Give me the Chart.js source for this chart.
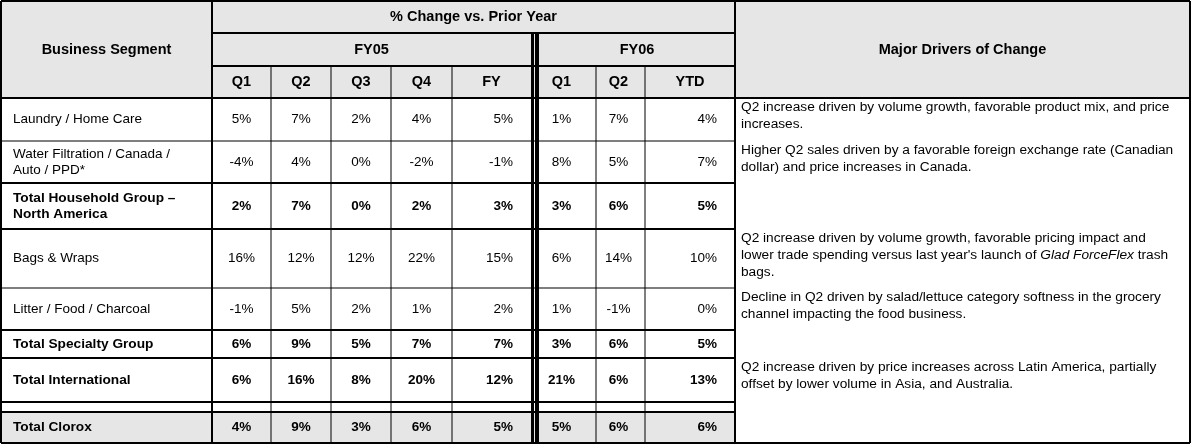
<!DOCTYPE html>
<html>
<head>
<meta charset="utf-8">
<script src="https://cdn.jsdelivr.net/npm/chart.js@4.4.0/dist/chart.umd.min.js"></script>
<style>
    html, body { margin: 0; padding: 0; background: #fff; }
    #wrap { width: 1195px; height: 448px; }
</style>
</head>
<body>
<div id="wrap"><canvas id="segmentTable" width="1195" height="448"></canvas></div>
<script>
const segments = [
    'Laundry / Home Care',
    'Water Filtration / Canada /\nAuto / PPD*',
    'Total Household Group \u2013\nNorth America',
    'Bags & Wraps',
    'Litter / Food / Charcoal',
    'Total Specialty Group',
    'Total International',
    '',
    'Total Clorox'
];
const totalRows = [2, 5, 6, 8];
const fy05Labels = ['Q1', 'Q2', 'Q3', 'Q4', 'FY'];
const fy06Labels = ['Q1', 'Q2', 'YTD'];
const fy05Values = [
    [5, 7, 2, 4, 5],
    [-4, 4, 0, -2, -1],
    [2, 7, 0, 2, 3],
    [16, 12, 12, 22, 15],
    [-1, 5, 2, 1, 2],
    [6, 9, 5, 7, 7],
    [6, 16, 8, 20, 12],
    null,
    [4, 9, 3, 6, 5]
];
const fy06Values = [
    [1, 7, 4],
    [8, 5, 7],
    [3, 6, 5],
    [6, 14, 10],
    [1, -1, 0],
    [3, 6, 5],
    [21, 6, 13],
    null,
    [5, 6, 6]
];
// _text_ = italic
const drivers = [
    ['Q2 increase driven by volume growth, favorable product mix, and price', 'increases.'],
    ['Higher Q2 sales driven by a favorable foreign exchange rate (Canadian', 'dollar) and price increases in Canada.'],
    null,
    ['Q2 increase driven by volume growth, favorable pricing impact and', "lower trade spending versus last year's launch of _Glad ForceFlex_ trash", 'bags.'],
    ['Decline in Q2 driven by salad/lettuce category softness in the grocery', 'channel impacting the food business.'],
    null,
    ['Q2 increase driven by price increases across Latin America, partially', 'offset by lower volume in Asia, and Australia.'],
    null,
    null
];

// layout, in page pixels
const LEFT = 1, RIGHT = 1190, TOP = 1, BOTTOM = 443;
const SEG_RIGHT = 212;
const FY05_EDGES = [212, 271, 331, 391, 452, 531];
const FY06_EDGES = [539, 596, 645, 735];
const FY06_NUDGE = [-6, -2, 0];
const DRIVERS_LEFT = 735;
const HEAD_EDGES = [TOP, 33, 66, 98];
const ROW_EDGES = [98, 141, 183, 229, 288, 330, 358, 402, 412, 443];
const GRAY = '#e6e6e6';
const FONT = '"Liberation Sans", Arial, sans-serif';

function cellPoints(values, edges, nudge) {
    const pts = [];
    values.forEach((row, r) => {
        if (!row) return;
        const yc = (ROW_EDGES[r] + ROW_EDGES[r + 1]) / 2;
        row.forEach((v, c) => {
            const right = c === row.length - 1;
            pts.push({
                x: right ? edges[c + 1] - 18 : (edges[c] + edges[c + 1]) / 2 + (nudge ? nudge[c] : 0),
                y: yc,
                text: v + '%',
                bold: totalRows.includes(r),
                align: right ? 'right' : 'center'
            });
        });
    });
    return pts;
}

const tablePlugin = {
    id: 'tablePlugin',
    beforeDatasetsDraw(chart) {
        const ctx = chart.ctx;
        const px = v => chart.scales.x.getPixelForValue(v);
        const py = v => chart.scales.y.getPixelForValue(v);
        const box = (x0, y0, x1, y1, c) => {
            ctx.fillStyle = c;
            ctx.fillRect(px(x0), py(y0), px(x1) - px(x0), py(y1) - py(y0));
        };
        const hLine = (x0, x1, yv, w) => box(x0, yv - w / 2, x1, yv + w / 2, '#000');
        const vLine = (xv, y0, y1, w) => box(xv - w / 2, y0, xv + w / 2, y1, '#000');

        ctx.save();
        box(LEFT, TOP, RIGHT, 98, GRAY);
        box(LEFT, ROW_EDGES[8], DRIVERS_LEFT, ROW_EDGES[9], GRAY);

        // header grid
        hLine(SEG_RIGHT, DRIVERS_LEFT, HEAD_EDGES[1], 2);
        hLine(SEG_RIGHT, DRIVERS_LEFT, HEAD_EDGES[2], 2);
        hLine(LEFT, RIGHT, HEAD_EDGES[3], 2);

        // body rows (thin between sub-segments, thick around totals)
        ROW_EDGES.slice(1, -1).forEach((yv, i) => {
            const thin = (i === 0 || i === 3);
            hLine(LEFT, DRIVERS_LEFT, yv, thin ? 1 : 2);
        });

        // column dividers
        FY05_EDGES.slice(1, -1).forEach(xv => vLine(xv, HEAD_EDGES[2], BOTTOM, 1));
        FY06_EDGES.slice(1, -1).forEach(xv => vLine(xv, HEAD_EDGES[2], BOTTOM, 1));
        vLine(SEG_RIGHT, TOP, BOTTOM, 2);
        vLine(DRIVERS_LEFT, TOP, BOTTOM, 2);
        // double divider between FY05 and FY06
        box(531, HEAD_EDGES[1], 534, BOTTOM, '#000');
        box(535, HEAD_EDGES[1], 539, BOTTOM, '#000');

        // outer border
        hLine(LEFT, RIGHT, TOP, 2);
        hLine(LEFT, RIGHT, BOTTOM, 2);
        vLine(LEFT, TOP, BOTTOM, 2);
        vLine(RIGHT, TOP, BOTTOM, 2);
        ctx.restore();
    },
    afterDatasetsDraw(chart) {
        const ctx = chart.ctx;
        const px = v => chart.scales.x.getPixelForValue(v);
        const py = v => chart.scales.y.getPixelForValue(v);
        ctx.save();
        ctx.fillStyle = '#000';
        ctx.textBaseline = 'middle';

        const text = (t, x, y, font, align) => {
            ctx.font = font;
            ctx.textAlign = align || 'center';
            ctx.fillText(t, px(x), py(y));
        };
        const hb = 'bold 14.5px ' + FONT;

        // headers
        text('% Change vs. Prior Year', (SEG_RIGHT + DRIVERS_LEFT) / 2, 17, hb);
        text('FY05', (FY05_EDGES[0] + FY05_EDGES[5]) / 2, 50, hb);
        text('FY06', (FY06_EDGES[0] + FY06_EDGES[3]) / 2, 50, hb);
        text('Business Segment', (LEFT + SEG_RIGHT) / 2, 50, hb);
        text('Major Drivers of Change', (DRIVERS_LEFT + RIGHT) / 2, 50, hb);
        fy05Labels.forEach((l, i) => text(l, (FY05_EDGES[i] + FY05_EDGES[i + 1]) / 2, 82, hb));
        fy06Labels.forEach((l, i) => text(l, (FY06_EDGES[i] + FY06_EDGES[i + 1]) / 2 + FY06_NUDGE[i], 82, hb));

        // segment labels
        segments.forEach((s, r) => {
            if (!s) return;
            const lines = s.split('\n');
            const yc = (ROW_EDGES[r] + ROW_EDGES[r + 1]) / 2;
            const font = totalRows.includes(r) ? 'bold 13.7px ' + FONT : '13.5px ' + FONT;
            lines.forEach((ln, i) => text(ln, 13, yc + (i - (lines.length - 1) / 2) * 16, font, 'left'));
        });

        // value cells, positioned by the points the library laid out
        chart.data.datasets.forEach((ds, di) => {
            chart.getDatasetMeta(di).data.forEach((el, i) => {
                const d = ds.data[i];
                ctx.font = (d.bold ? 'bold 13.5px ' : '13.5px ') + FONT;
                ctx.textAlign = d.align;
                ctx.fillText(d.text, el.x, el.y);
            });
        });

        // drivers text
        ctx.textAlign = 'left';
        drivers.forEach((lines, r) => {
            if (!lines) return;
            lines.forEach((ln, i) => {
                let xv = px(741);
                const yv = py(ROW_EDGES[r] + 9.5 + i * 17);
                ln.split('_').forEach((part, k) => {
                    ctx.font = (k % 2 ? 'italic ' : '') + '13.7px ' + FONT;
                    ctx.fillText(part, xv, yv);
                    xv += ctx.measureText(part).width;
                });
            });
        });
        ctx.restore();
    }
};

new Chart(document.getElementById('segmentTable'), {
    type: 'scatter',
    data: {
        datasets: [
            { label: 'FY05', data: cellPoints(fy05Values, FY05_EDGES, null), pointRadius: 0 },
            { label: 'FY06', data: cellPoints(fy06Values, FY06_EDGES, FY06_NUDGE), pointRadius: 0 }
        ]
    },
    options: {
        responsive: false,
        animation: false,
        events: [],
        layout: { padding: 0 },
        plugins: { legend: { display: false }, tooltip: { enabled: false } },
        scales: {
            x: { type: 'linear', min: 0, max: 1195, display: false },
            y: { type: 'linear', min: 0, max: 448, reverse: true, display: false }
        }
    },
    plugins: [tablePlugin]
});
</script>
</body>
</html>
